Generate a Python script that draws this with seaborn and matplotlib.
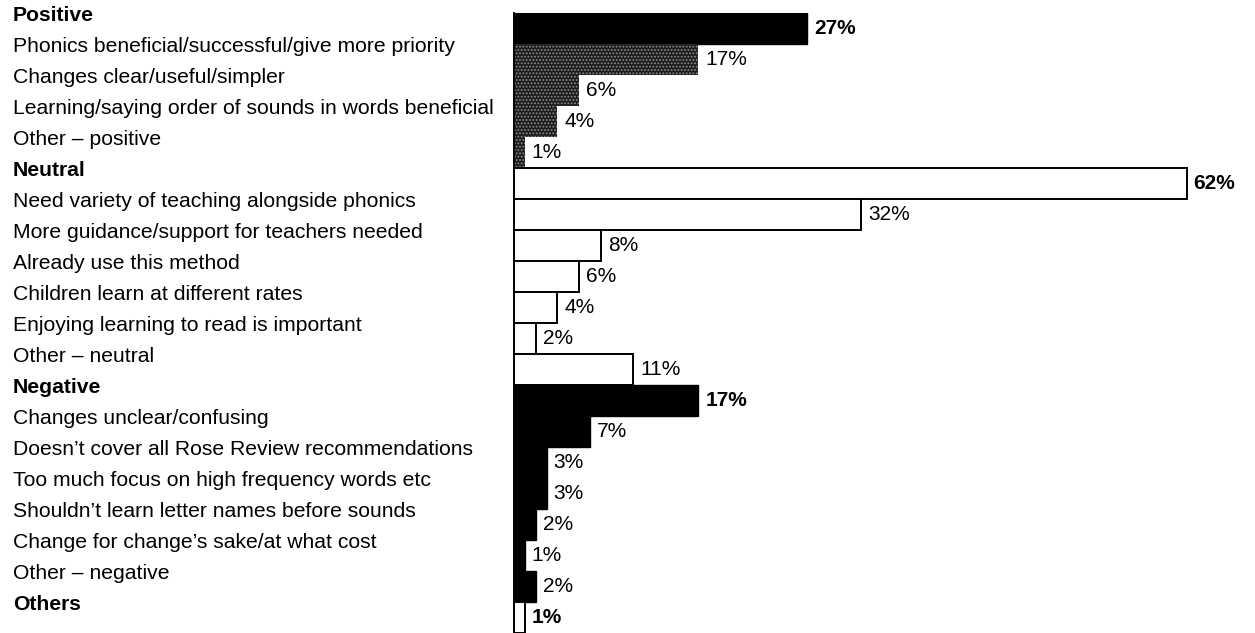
import matplotlib
matplotlib.use("Agg")
import matplotlib.pyplot as plt
import matplotlib.transforms as mtransforms
import seaborn as sns
import pandas as pd

# Survey responses on the phonics changes, grouped by sentiment
labels = [
    "Positive",
    "Phonics beneficial/successful/give more priority",
    "Changes clear/useful/simpler",
    "Learning/saying order of sounds in words beneficial",
    "Other \u2013 positive",
    "Neutral",
    "Need variety of teaching alongside phonics",
    "More guidance/support for teachers needed",
    "Already use this method",
    "Children learn at different rates",
    "Enjoying learning to read is important",
    "Other \u2013 neutral",
    "Negative",
    "Changes unclear/confusing",
    "Doesn\u2019t cover all Rose Review recommendations",
    "Too much focus on high frequency words etc",
    "Shouldn\u2019t learn letter names before sounds",
    "Change for change\u2019s sake/at what cost",
    "Other \u2013 negative",
    "Others",
]
values = [27, 17, 6, 4, 1, 62, 32, 8, 6, 4, 2, 11, 17, 7, 3, 3, 2, 1, 2, 1]
groups = ["pos_total", "pos", "pos", "pos", "pos",
          "neu_total", "neu", "neu", "neu", "neu", "neu", "neu",
          "neg_total", "neg", "neg", "neg", "neg", "neg", "neg",
          "oth_total"]

df = pd.DataFrame({"label": labels, "value": values, "group": groups})

plt.rcParams["font.family"] = ["Liberation Sans", "DejaVu Sans"]
plt.rcParams["hatch.linewidth"] = 0.9

fig = plt.figure(figsize=(12.55, 6.33), dpi=100)
ax = fig.add_axes([514 / 1255, 0, (1255 - 514) / 1255, (633 - 13) / 633])

sns.barplot(data=df, x="value", y="label", orient="h", order=labels,
            width=1.0, color="black", ax=ax, errorbar=None)

styles = {
    "pos_total": dict(facecolor="black", edgecolor="black", hatch=None, lw=1.0),
    "pos": dict(facecolor="#1c1c1c", edgecolor="#8c8c8c", hatch=".....", lw=0.0),
    "neu_total": dict(facecolor="white", edgecolor="black", hatch=None, lw=1.4),
    "neu": dict(facecolor="white", edgecolor="black", hatch=None, lw=1.4),
    "neg_total": dict(facecolor="black", edgecolor="black", hatch=None, lw=1.0),
    "neg": dict(facecolor="black", edgecolor="black", hatch=None, lw=1.0),
    "oth_total": dict(facecolor="white", edgecolor="black", hatch=None, lw=1.4),
}
for patch, grp in zip(ax.patches, groups):
    st = styles[grp]
    patch.set_facecolor(st["facecolor"])
    patch.set_edgecolor(st["edgecolor"])
    patch.set_linewidth(st["lw"])
    if st["hatch"]:
        patch.set_hatch(st["hatch"])

ax.set_xlim(0, 68.3)
ax.set_ylim(len(labels) - 0.5, -0.5)
ax.set_xlabel("")
ax.set_ylabel("")
ax.set_xticks([])
ax.set_yticks([])
for side in ["top", "right", "bottom"]:
    ax.spines[side].set_visible(False)
ax.spines["left"].set_linewidth(1.4)
ax.spines["left"].set_color("black")

# Value labels at the end of each bar
offset = mtransforms.ScaledTranslation(7 / 100, 0, fig.dpi_scale_trans)
for patch, val, grp in zip(ax.patches, values, groups):
    bold = grp.endswith("total")
    y = patch.get_y() + patch.get_height() / 2
    ax.text(patch.get_width(), y, f"{val}%", va="center", ha="left",
            fontsize=15, fontweight="bold" if bold else "normal",
            transform=ax.transData + offset, clip_on=False)

# Category labels, left-aligned at the figure edge, sitting near the bar tops
lab_trans = mtransforms.blended_transform_factory(fig.transFigure, ax.transData)
for i, (lab, grp) in enumerate(zip(labels, groups)):
    ax.text(13 / 1255, i - 0.42, lab, ha="left", va="center", fontsize=15.2,
            fontweight="bold" if grp.endswith("total") else "normal",
            transform=lab_trans, clip_on=False)

fig.savefig("out.png", dpi=100, facecolor="white")
